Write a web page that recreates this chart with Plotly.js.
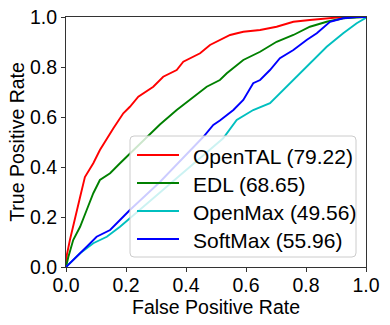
<!DOCTYPE html>
<html>
<head>
<meta charset="utf-8">
<script src="https://cdn.plot.ly/plotly-3.0.1.min.js"></script>
<style>html,body{margin:0;padding:0;background:#fff}#chart{width:390px;height:325px}</style>
</head>
<body>
<div id="chart"></div>
<script>
var seriesNames = ["OpenTAL (79.22)", "EDL (68.65)", "OpenMax (49.56)", "SoftMax (55.96)"];

var openTalFpr = [0, 0.003, 0.013, 0.03, 0.047, 0.063, 0.091, 0.113, 0.147, 0.158, 0.191, 0.213, 0.241, 0.291, 0.324, 0.369, 0.391, 0.447, 0.48, 0.513, 0.547, 0.591, 0.647, 0.702, 0.758, 0.813, 0.869, 0.92, 1];
var openTalTpr = [0, 0.05, 0.108, 0.188, 0.28, 0.36, 0.415, 0.468, 0.535, 0.555, 0.615, 0.641, 0.681, 0.721, 0.761, 0.788, 0.821, 0.855, 0.888, 0.908, 0.928, 0.941, 0.948, 0.961, 0.981, 0.988, 0.995, 1, 1];

var edlFpr = [0, 0.008, 0.024, 0.047, 0.069, 0.091, 0.113, 0.147, 0.18, 0.202, 0.236, 0.269, 0.313, 0.369, 0.424, 0.469, 0.513, 0.536, 0.591, 0.647, 0.702, 0.758, 0.813, 0.869, 0.924, 0.99, 1];
var edlTpr = [0, 0.041, 0.108, 0.161, 0.228, 0.295, 0.348, 0.375, 0.415, 0.441, 0.481, 0.521, 0.57, 0.628, 0.681, 0.721, 0.748, 0.775, 0.828, 0.861, 0.901, 0.928, 0.961, 0.981, 0.995, 1, 1];

var openMaxFpr = [0, 0.047, 0.091, 0.136, 0.18, 0.213, 0.313, 0.424, 0.524, 0.569, 0.624, 0.68, 0.736, 0.791, 0.836, 0.869, 0.924, 0.969, 0.997, 1];
var openMaxTpr = [0, 0.055, 0.095, 0.121, 0.161, 0.195, 0.295, 0.41, 0.515, 0.588, 0.628, 0.655, 0.721, 0.788, 0.841, 0.881, 0.935, 0.975, 0.995, 1];

var softMaxFpr = [0, 0.036, 0.069, 0.102, 0.147, 0.18, 0.213, 0.313, 0.4, 0.458, 0.491, 0.513, 0.558, 0.591, 0.624, 0.647, 0.68, 0.713, 0.758, 0.802, 0.836, 0.88, 0.924, 0.969, 1];
var softMaxTpr = [0, 0.041, 0.081, 0.121, 0.148, 0.188, 0.228, 0.34, 0.45, 0.521, 0.568, 0.586, 0.628, 0.668, 0.735, 0.748, 0.788, 0.835, 0.868, 0.908, 0.935, 0.981, 0.995, 1, 1];

var tickVals = [0, 0.2, 0.4, 0.6, 0.8, 1.0];
var tickLabels = ["0.0", "0.2", "0.4", "0.6", "0.8", "1.0"];

var colors = ["#ff0000", "#008000", "#00bfbf", "#0000ff"];
var xs = [openTalFpr, edlFpr, openMaxFpr, softMaxFpr];
var ys = [openTalTpr, edlTpr, openMaxTpr, softMaxTpr];

var traces = seriesNames.map(function (n, i) {
  return {
    x: xs[i], y: ys[i], name: n, type: "scatter", mode: "lines",
    line: {color: colors[i], width: 1.9}
  };
});

var font = {family: "Liberation Sans, Arial, sans-serif", size: 19.5, color: "#000"};

var axisCommon = {
  range: [0, 1], tickvals: tickVals, ticktext: tickLabels,
  showgrid: false, zeroline: false, showline: true, mirror: true,
  linecolor: "#333", linewidth: 1, ticks: "outside", ticklen: 4, tickwidth: 1, tickcolor: "#333",
  tickfont: font, fixedrange: true
};

// Legend box drawn in plot-area (paper) fractions: plot area is 300 x 250 px
var PW = 300, PH = 250;
function fx(px) { return px / PW; }
function fy(px) { return 1 - px / PH; }
var boxL = 64, boxR = 290, boxT = 119, boxB = 240, rad = 4;
var boxPath = "M" + fx(boxL + rad) + "," + fy(boxT) +
  " L" + fx(boxR - rad) + "," + fy(boxT) +
  " Q" + fx(boxR) + "," + fy(boxT) + " " + fx(boxR) + "," + fy(boxT + rad) +
  " L" + fx(boxR) + "," + fy(boxB - rad) +
  " Q" + fx(boxR) + "," + fy(boxB) + " " + fx(boxR - rad) + "," + fy(boxB) +
  " L" + fx(boxL + rad) + "," + fy(boxB) +
  " Q" + fx(boxL) + "," + fy(boxB) + " " + fx(boxL) + "," + fy(boxB - rad) +
  " L" + fx(boxL) + "," + fy(boxT + rad) +
  " Q" + fx(boxL) + "," + fy(boxT) + " " + fx(boxL + rad) + "," + fy(boxT) + " Z";

var shapes = [{
  type: "path", xref: "paper", yref: "paper", path: boxPath, layer: "above",
  fillcolor: "rgba(255,255,255,0.8)", line: {color: "#cccccc", width: 1}
}];
var annotations = [];
seriesNames.forEach(function (n, i) {
  var cy = 138 + 28 * i;
  shapes.push({
    type: "line", xref: "paper", yref: "paper", layer: "above",
    x0: fx(71), x1: fx(113), y0: fy(cy), y1: fy(cy),
    line: {color: colors[i], width: 1.9}
  });
  annotations.push({
    xref: "paper", yref: "paper", x: fx(125), y: fy(cy + 1),
    xanchor: "left", yanchor: "middle", showarrow: false, text: n,
    font: {family: "Liberation Sans, Arial, sans-serif", size: 21, color: "#000"}
  });
});

var layout = {
  width: 390, height: 325,
  margin: {l: 66, r: 24, t: 17, b: 58, pad: 0},
  paper_bgcolor: "#fff", plot_bgcolor: "#fff",
  font: font,
  showlegend: false,
  xaxis: Object.assign({}, axisCommon, {ticklabelstandoff: -3, title: {text: "False Positive Rate", font: font, standoff: 0}}),
  yaxis: Object.assign({}, axisCommon, {title: {text: "True Positive Rate", font: font, standoff: 0}}),
  shapes: shapes,
  annotations: annotations
};

Plotly.newPlot("chart", traces, layout, {displayModeBar: false, staticPlot: true});
</script>
</body>
</html>
